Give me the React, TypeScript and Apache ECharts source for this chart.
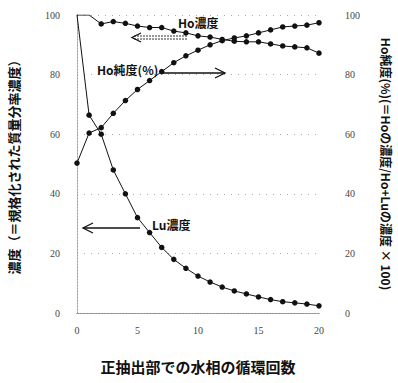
import React, { useEffect, useRef } from "react";
import * as echarts from "echarts";

const cycles = [0,1,2,3,4,5,6,7,8,9,10,11,12,13,14,15,16,17,18,19,20];
const hoConc = [100,100,97,97.8,97.2,96.3,95.8,95.8,94.6,94,93,92.6,91.8,91.2,91,91,90.3,89.6,89.3,89,87.2];
const hoPurity = [50.3,60.4,62.2,67,71.3,75,78,81,84,86.3,88.2,90,91.4,92.3,93,94,95,96,96.3,96.6,97.4];
const luConc = [100,66.4,60,48,40,32,27,22,18,15,12.4,10.4,8.7,7.4,6.4,5.4,4.5,3.8,3.4,3,2.4];
const hiddenMarkers = { ho: [0, 1], lu: [0] };

const xTitle = "正抽出部での水相の循環回数";
const yLeftTitle = "濃度（＝規格化された質量分率濃度）";
const yRightTitle = "Ho純度(%)(＝Hoの濃度/Ho+Luの濃度 × 100)";
const labelHoConc = "Ho濃度";
const labelPurity = "Ho純度(%)";
const labelLu = "Lu濃度";

const CJK = '"Noto Sans CJK JP", sans-serif';

export default function App() {
  const ref = useRef<HTMLDivElement>(null);
  useEffect(() => {
    if (!ref.current) return;
    const chart = echarts.init(ref.current, null, { renderer: "svg" });
    const mk = (arr: number[], hidden: number[]) =>
      arr.map((v, i) => (hidden.includes(i) ? { value: [cycles[i], v], symbol: "none" } : [cycles[i], v]));
    const lineStyle = { color: "#111", width: 1 };
    const series: any[] = [
      { name: "ho", type: "line", data: mk(hoConc, hiddenMarkers.ho), symbol: "circle", symbolSize: 5.5, itemStyle: { color: "#111" }, lineStyle },
      { name: "pur", type: "line", yAxisIndex: 1, data: mk(hoPurity, []), symbol: "circle", symbolSize: 5.5, itemStyle: { color: "#111" }, lineStyle },
      { name: "lu", type: "line", data: mk(luConc, hiddenMarkers.lu), symbol: "circle", symbolSize: 5.5, itemStyle: { color: "#111" }, lineStyle },
    ];
    const dotted = { color: "#999", type: [1, 2] as any, width: 1 };
    const axLabel = { fontFamily: '"Liberation Serif", serif', fontSize: 10, color: "#444" };
    const arrowStyle = { stroke: "#111", lineWidth: 1.3, fill: null as any };
    chart.setOption({
      animation: false,
      grid: { left: 77, right: 79, top: 15, bottom: 70, containLabel: false, outerBoundsMode: "none" } as any,
      xAxis: [
        {
          type: "value", min: 0, max: 20, interval: 5,
          axisLine: { show: true, lineStyle: { color: "#888", type: [2, 1] as any, width: 1 } },
          axisTick: { show: false }, splitLine: { show: false },
          axisLabel: { ...axLabel, margin: 12 },
          name: xTitle, nameLocation: "middle", nameGap: 46,
          nameTextStyle: { fontFamily: CJK, fontSize: 15, fontWeight: "bold", color: "#111" },
        },
        {
          type: "value", min: 0, max: 20, position: "top",
          axisLine: { show: true, lineStyle: dotted },
          axisTick: { show: false }, splitLine: { show: false }, axisLabel: { show: false },
        },
      ],
      yAxis: [
        {
          type: "value", min: 0, max: 100, interval: 20,
          axisLine: { show: true, lineStyle: dotted },
          axisTick: { show: false },
          splitLine: { show: true, lineStyle: { color: "#aaa", type: [1, 6] as any, width: 1 } },
          axisLabel: { ...axLabel, margin: 17 },
          name: yLeftTitle, nameLocation: "middle", nameGap: 57,
          nameTextStyle: { fontFamily: CJK, fontSize: 13, fontWeight: "bold", color: "#111" },
        },
        {
          type: "value", min: 0, max: 100, interval: 20, position: "right",
          axisLine: { show: true, lineStyle: dotted },
          axisTick: { show: false }, splitLine: { show: false },
          axisLabel: { ...axLabel, margin: 26 },
          name: yRightTitle, nameLocation: "middle", nameGap: 61, nameRotate: -90,
          nameTextStyle: { fontFamily: CJK, fontSize: 12, fontWeight: "bold", color: "#111" },
        },
      ],
      series,
      graphic: [
        { type: "text", left: 178, top: 16, style: { text: labelHoConc, font: `bold 12px ${CJK}`, fill: "#111" }, z: 10 },
        { type: "line", shape: { x1: 134, y1: 36, x2: 188, y2: 36 }, style: { stroke: "#333", lineWidth: 1, lineDash: [2, 1] }, z: 10 },
        { type: "line", shape: { x1: 134, y1: 39, x2: 188, y2: 39 }, style: { stroke: "#333", lineWidth: 1, lineDash: [2, 1] }, z: 10 },
        { type: "polyline", shape: { points: [[141, 33], [132, 37.5], [141, 42]] }, style: arrowStyle, z: 10 },
        { type: "text", left: 97, top: 63, style: { text: labelPurity, font: `bold 12px ${CJK}`, fill: "#111" }, z: 10 },
        { type: "line", shape: { x1: 163, y1: 73, x2: 225, y2: 73 }, style: { stroke: "#111", lineWidth: 1.5 }, z: 10 },
        { type: "polyline", shape: { points: [[215, 68], [225, 73], [215, 78]] }, style: arrowStyle, z: 10 },
        { type: "text", left: 152, top: 218, style: { text: labelLu, font: `bold 12px ${CJK}`, fill: "#111" }, z: 10 },
        { type: "line", shape: { x1: 83, y1: 228, x2: 140, y2: 228 }, style: { stroke: "#111", lineWidth: 1.5 }, z: 10 },
        { type: "polyline", shape: { points: [[93, 223], [83, 228], [93, 233]] }, style: arrowStyle, z: 10 },
      ],
    });
    return () => chart.dispose();
  }, []);
  return <div ref={ref} style={{ width: 398, height: 383, position: "absolute", left: 0, top: 0 }} />;
}
